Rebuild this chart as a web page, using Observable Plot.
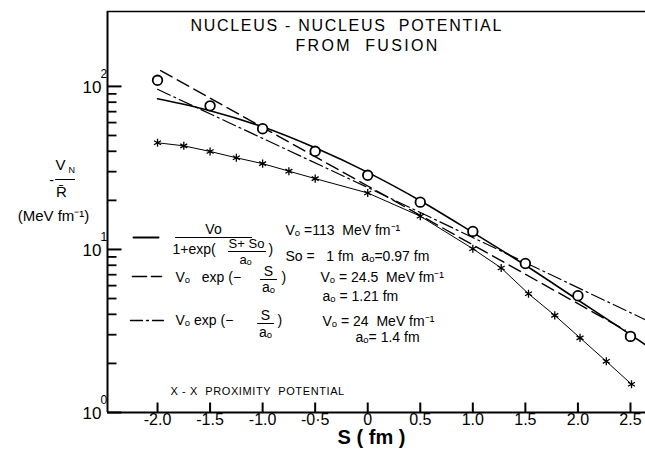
<!DOCTYPE html>
<html><head><meta charset="utf-8">
<script src="https://cdn.jsdelivr.net/npm/d3@7"></script>
<script src="https://cdn.jsdelivr.net/npm/@observablehq/plot@0.6"></script>
<style>
html,body{margin:0;padding:0;background:#fff;}
#chart{width:645px;height:455px;}
svg{font-family:"Liberation Sans", Arial, sans-serif;}
</style></head><body><div id="chart"></div>
<script>
// ---------- data ----------
const xTicks = [-2.0, -1.5, -1.0, -0.5, 0, 0.5, 1.0, 1.5, 2.0, 2.5];
const xTickLabels = ["-2.0", "-1.5", "-1.0", "-0·5", "0", "0.5", "1.0", "1.5", "2.0", "2.5"];
const yMajor = [1, 10, 100];
const yExp = ["0", "1", "2"];
const yMinor = [2, 3, 4, 5, 6, 7, 8, 9, 20, 30, 40, 50, 60, 70, 80, 90];
const xDomain = [-2.476, 2.643];
const yDomain = [1, 288];

// experimental points (open circles)
const sExp = [-2.0, -1.5, -1.0, -0.5, 0, 0.5, 1.0, 1.5, 2.0, 2.5];
const vExp = [109, 76, 55, 40, 28.5, 19.5, 12.9, 8.2, 5.2, 2.93];

// X-X proximity potential (stars)
const sProx = [-2.0, -1.75, -1.5, -1.25, -1.0, -0.75, -0.5, 0, 0.5, 1.0, 1.27, 1.53, 1.78, 2.02, 2.27, 2.51];
const vProx = [45.1, 43.2, 39.9, 36.5, 33.6, 30.2, 27.2, 22.2, 16.0, 10.1, 7.7, 5.35, 3.94, 2.87, 2.06, 1.49];

// solid curve: Vo/(1+exp((S+So)/ao))
const sFermi = [-2.0, -1.5, -1.0, -0.5, 0, 0.5, 1.0, 1.5, 2.0, 2.5, 2.643];
const vFermi = [84, 71, 56.5, 42, 29.7, 19.9, 12.7, 8.0, 4.9, 3.0, 2.6];

// dashed: Vo exp(-S/ao), Vo=24.5, ao=1.21
const sDash = [-1.97, 0, 2.45];
const vDash = [125, 24.5, 3.2];

// dash-dot: Vo exp(-S/ao), Vo=24, ao=1.4
const sDashDot = [-2.0, 0, 2.643];
const vDashDot = [96, 24, 3.7];

// ---------- build ----------
const W = 645, H = 455;
const ML = 107, MT = 11, MB = 43;
const zip = (s, v) => s.map((x, i) => ({s: x, v: v[i]}));
function label(str, X, Y, o = {}) {
  return Plot.text([str], {
    text: d => d, frameAnchor: "top-left", dx: X - ML, dy: Y - MT,
    textAnchor: o.anchor || "start", lineAnchor: "middle",
    fontSize: o.size || 14, fill: "black", fontWeight: o.weight || "normal"
  });
}
const hshape = {draw(ctx, l) { ctx.moveTo(0, 0); ctx.lineTo(l, 0); }};
function hline(X1, X2, Y, o = {}) {
  return Plot.vector([0], {
    frameAnchor: "top-left", dx: X1 - ML, dy: Y - MT, length: X2 - X1, rotate: 0,
    anchor: "start", shape: hshape, stroke: "black", strokeWidth: o.w || 1.2,
    strokeDasharray: o.dash
  });
}
// tick-shaped symbols for inward axis ticks (length = r)
const tickRight = {draw(ctx, size) { const l = Math.sqrt(size / Math.PI); ctx.moveTo(0, 0); ctx.lineTo(l, 0); }};
const tickUp = {draw(ctx, size) { const l = Math.sqrt(size / Math.PI); ctx.moveTo(0, 0); ctx.lineTo(0, -l); }};

const chart = Plot.plot({
  width: W, height: H,
  marginLeft: ML, marginTop: MT, marginRight: 0, marginBottom: MB,
  x: {domain: xDomain, axis: null},
  y: {type: "log", domain: yDomain, axis: null},
  marks: [
    // frame lines
    Plot.ruleX([xDomain[0]], {stroke: "black", strokeWidth: 2}),
    Plot.ruleY([yDomain[0]], {stroke: "black", strokeWidth: 2}),
    Plot.ruleY([yDomain[1]], {stroke: "black", strokeWidth: 1.3}),
    // inward ticks, placed by the scales
    Plot.dot(yMajor, {y: d => d, frameAnchor: "left", symbol: tickRight, r: 14, stroke: "black", fill: "none", strokeWidth: 2}),
    Plot.dot(yMinor, {y: d => d, frameAnchor: "left", symbol: tickRight, r: 9, stroke: "black", fill: "none", strokeWidth: 1.8}),
    Plot.dot(xTicks, {x: d => d, frameAnchor: "bottom", symbol: tickUp, r: 10, stroke: "black", fill: "none", strokeWidth: 2}),
    // tick labels
    Plot.text(xTicks, {x: d => d, text: d => xTickLabels[xTicks.indexOf(d)], frameAnchor: "bottom", dy: 12, fontSize: 16, fill: "black"}),
    Plot.text(yMajor, {y: d => d, text: () => "10", frameAnchor: "left", textAnchor: "end", dx: -6, dy: 1, fontSize: 17, fill: "black"}),
    Plot.text(yMajor, {y: d => d, text: (d, i) => yExp[i], frameAnchor: "left", textAnchor: "start", dx: -7, dy: -12, fontSize: 12, fill: "black"}),
    // curves
    Plot.line(zip(sFermi, vFermi), {x: "s", y: "v", curve: "monotone-x", stroke: "black", strokeWidth: 1.6}),
    Plot.line(zip(sDash, vDash), {x: "s", y: "v", stroke: "black", strokeWidth: 1.4, strokeDasharray: "13,6"}),
    Plot.line(zip(sDashDot, vDashDot), {x: "s", y: "v", stroke: "black", strokeWidth: 1.2, strokeDasharray: "14,4,2,4"}),
    Plot.line(zip(sProx, vProx), {x: "s", y: "v", stroke: "black", strokeWidth: 1}),
    Plot.dot(zip(sProx, vProx), {x: "s", y: "v", symbol: "asterisk", r: 3.8, stroke: "black", strokeWidth: 1.3}),
    Plot.dot(zip(sExp, vExp), {x: "s", y: "v", r: 4.8, stroke: "black", strokeWidth: 1.8, fill: "white"}),
    // title
    label("NUCLEUS - NUCLEUS  POTENTIAL", 190, 25, {size: 16}),
    label("FROM  FUSION", 295, 45, {size: 16}),
    // y label
    label("V", 60, 165, {size: 15, anchor: "middle"}),
    label("N", 68, 170, {size: 9}),
    label("-", 51, 180, {size: 14, anchor: "middle"}),
    hline(55, 74, 179, {w: 1.2}),
    label("R\u0304", 61, 192, {size: 15, anchor: "middle"}),
    label("(MeV fm\u207B\u00B9)", 53, 216, {size: 15, anchor: "middle"}),
    // legend 1 (solid)
    hline(133, 158, 237, {w: 2}),
    label("Vo", 213, 229, {size: 14, anchor: "middle"}),
    hline(175, 251, 237, {w: 1.2}),
    label("1+exp(", 172, 249, {size: 14}),
    label("S+ So", 246, 243.5, {size: 13, anchor: "middle"}),
    hline(228, 265, 251, {w: 1.2}),
    label("a\u2092", 245, 259, {size: 13, anchor: "middle"}),
    label(")", 268, 249, {size: 14}),
    label("V\u2092 =113  MeV fm\u207B\u00B9", 285, 230, {size: 14}),
    label("So =   1 fm  a\u2092=0.97 fm", 285, 256, {size: 14}),
    // legend 2 (dashed)
    hline(132, 161, 276, {w: 1.6, dash: "14,5"}),
    label("V\u2092   exp (\u2212", 175, 277, {size: 14}),
    label("S", 268, 271, {size: 14, anchor: "middle"}),
    hline(260, 276, 279, {w: 1.2}),
    label("a\u2092", 268, 287, {size: 14, anchor: "middle"}),
    label(")", 281, 277, {size: 14}),
    label("V\u2092 = 24.5  MeV fm\u207B\u00B9", 320, 277, {size: 14}),
    label("a\u2092 = 1.21 fm", 322, 296, {size: 14}),
    // legend 3 (dash-dot)
    hline(130, 163, 320, {w: 1.3, dash: "12,4,2,4"}),
    label("V\u2092 exp (\u2212", 175, 320, {size: 14}),
    label("S", 265, 315, {size: 14, anchor: "middle"}),
    hline(257, 273, 323, {w: 1.2}),
    label("a\u2092", 265, 332, {size: 14, anchor: "middle"}),
    label(")", 277, 320, {size: 14}),
    label("V\u2092 = 24  MeV fm\u207B\u00B9", 322, 321, {size: 14}),
    label("a\u2092= 1.4 fm", 355, 337, {size: 14}),
    // proximity note
    label("X - X  PROXIMITY  POTENTIAL", 170, 391, {size: 11}),
    // x title
    label("S ( fm )", 371, 437, {size: 20, anchor: "middle", weight: "bold"})
  ]
});
// letter spacing of the spaced-out capitals (style only)
const spacing = {"NUCLEUS": "1.7px", "FROM": "2.3px", "X - X": "0.6px"};
chart.querySelectorAll("text").forEach(t => {
  for (const k in spacing) if (t.textContent.startsWith(k)) t.style.letterSpacing = spacing[k];
});
document.getElementById("chart").appendChild(chart);
</script>
</body></html>
